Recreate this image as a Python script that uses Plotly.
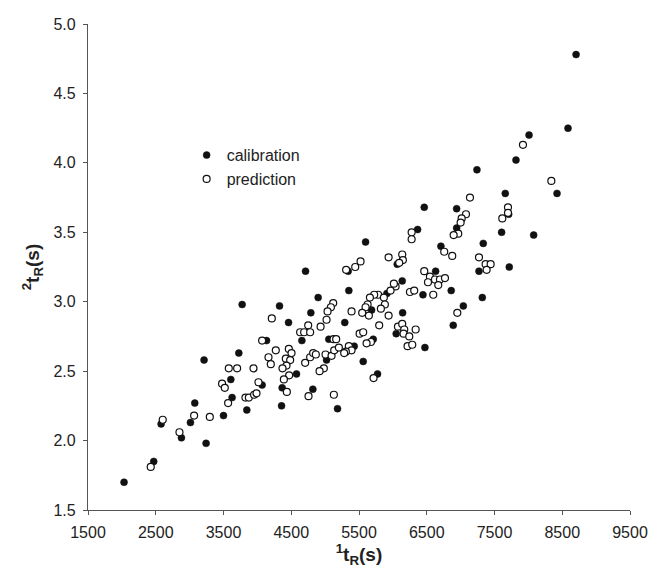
import plotly.graph_objects as go

# calibration set (filled)
cal_x = [8704, 8585, 8010, 7817, 7241, 8423, 7659, 7709, 7605, 8078, 7334, 7271, 7718, 7320, 7040,
         6463, 6941, 6941, 6365, 5597, 6709, 6064, 5340, 6631, 6138, 6861, 5350, 5912, 6444, 5686,
         5290, 6144, 6049, 6891, 5710, 5429, 6473, 5562, 5774, 4711, 4897, 3775, 4327, 4789, 4460,
         4657, 4135, 5055, 3726, 5021, 3608, 4070, 4578, 4366, 4819, 3627, 4357, 3844, 5183, 3500,
         3213, 3076, 3012, 2579, 2879, 3243, 2470, 2032]
cal_y = [4.78, 4.25, 4.20, 4.02, 3.95, 3.78, 3.78, 3.63, 3.50, 3.48, 3.42, 3.22, 3.25, 3.03, 2.97,
         3.68, 3.67, 3.53, 3.52, 3.43, 3.40, 3.27, 3.22, 3.22, 3.15, 3.08, 3.08, 3.06, 3.05, 2.94,
         2.85, 2.92, 2.77, 2.83, 2.73, 2.68, 2.67, 2.57, 2.48, 3.22, 3.03, 2.98, 2.97, 2.92, 2.85,
         2.72, 2.72, 2.73, 2.63, 2.58, 2.44, 2.40, 2.48, 2.38, 2.37, 2.31, 2.25, 2.22, 2.23, 2.18,
         2.58, 2.27, 2.13, 2.12, 2.02, 1.98, 1.85, 1.70]

# prediction set (open)
pred_x = [7920, 8339, 7138, 7699, 7699, 7615, 7079, 7015, 7000, 6965, 6897, 6277, 6277, 7271, 7369,
          7443, 7384, 6758, 6876, 5937, 6138, 6148, 6094, 5523, 5444, 5310, 6463, 6547, 6621, 6695,
          6769, 6518, 6670, 6040, 6015, 5966, 6252, 6315, 6596, 5783, 5724, 5661, 5867, 5627, 5597,
          5882, 5823, 5646, 5547, 5390, 5937, 5798, 6075, 6138, 6168, 6336, 6158, 6242, 6951, 5509,
          5562, 5676, 5612, 5350, 5390, 5306, 6217, 6286, 5715, 5119, 5085, 5036, 4213, 5021, 4933,
          4750, 4631, 4690, 4779, 4070, 5124, 5163, 4272, 4164, 4198, 4464, 4504, 4420, 4484, 4430,
          4371, 4705, 4779, 4823, 4863, 5006, 5095, 5134, 5203, 5281, 4981, 4918, 3578, 3701, 3943,
          3479, 3519, 4016, 4469, 4391, 4435, 4755, 5129, 3568, 3824, 3874, 3952, 3987, 3066, 3298,
          2603, 2850, 2426]
pred_y = [4.13, 3.87, 3.75, 3.68, 3.64, 3.60, 3.63, 3.60, 3.57, 3.49, 3.48, 3.50, 3.45, 3.32, 3.27,
          3.27, 3.23, 3.36, 3.33, 3.32, 3.34, 3.30, 3.28, 3.29, 3.25, 3.23, 3.22, 3.18, 3.16, 3.16,
          3.17, 3.14, 3.12, 3.11, 3.13, 3.08, 3.07, 3.08, 3.05, 3.05, 3.05, 3.03, 3.03, 2.98, 2.96,
          2.98, 2.95, 2.90, 2.92, 2.93, 2.90, 2.83, 2.82, 2.84, 2.80, 2.80, 2.77, 2.75, 2.92, 2.77,
          2.78, 2.71, 2.70, 2.68, 2.65, 2.64, 2.68, 2.69, 2.45, 2.99, 2.96, 2.93, 2.88, 2.87, 2.82,
          2.83, 2.78, 2.78, 2.78, 2.72, 2.73, 2.73, 2.65, 2.60, 2.55, 2.66, 2.63, 2.59, 2.58, 2.54,
          2.52, 2.56, 2.60, 2.63, 2.62, 2.62, 2.61, 2.65, 2.67, 2.63, 2.52, 2.50, 2.52, 2.52, 2.52,
          2.41, 2.38, 2.42, 2.47, 2.44, 2.35, 2.32, 2.33, 2.27, 2.31, 2.31, 2.33, 2.34, 2.18, 2.17,
          2.15, 2.06, 1.81]

x_ticks = [1500, 2500, 3500, 4500, 5500, 6500, 7500, 8500, 9500]
y_ticks = [1.5, 2.0, 2.5, 3.0, 3.5, 4.0, 4.5, 5.0]

FONT = "Liberation Sans, Arial, Helvetica, sans-serif"

fig = go.Figure()
fig.add_trace(go.Scatter(
    x=cal_x, y=cal_y, mode="markers", name="calibration",
    marker=dict(symbol="circle", size=7, color="#111111", line=dict(color="#111111", width=0.5)),
))
fig.add_trace(go.Scatter(
    x=pred_x, y=pred_y, mode="markers", name="prediction",
    marker=dict(symbol="circle", size=7, color="white", line=dict(color="#111111", width=1.2)),
))

axis_common = dict(
    showgrid=False, zeroline=False, showline=True, linecolor="#555555", linewidth=1.2,
    ticks="outside", ticklen=4, tickcolor="#555555", tickwidth=1, automargin=False,
    tickfont=dict(family=FONT, size=16, color="#222222"), mirror=False,
)

fig.update_layout(
    width=648, height=573,
    margin=dict(l=88, r=18, t=24, b=63),
    paper_bgcolor="white", plot_bgcolor="white",
    font=dict(family=FONT, color="#222222"),
    xaxis=dict(range=[1500, 9500], tickvals=x_ticks, ticktext=[str(v) for v in x_ticks],
               ticklabelstandoff=4,
               title=dict(text="<b><sup>1</sup>t<sub>R</sub>(s)</b>", font=dict(family=FONT, size=19, color="#222222"), standoff=6),
               **axis_common),
    yaxis=dict(range=[1.5, 5.0], tickvals=y_ticks, ticktext=[f"{v:.1f}" for v in y_ticks],
               ticklabelstandoff=4,
               title=dict(text="<b><sup>2</sup>t<sub>R</sub>(s)</b>", font=dict(family=FONT, size=19, color="#222222"), standoff=8),
               **axis_common),
    legend=dict(x=0.182, y=0.765, xanchor="left", yanchor="top", bgcolor="rgba(0,0,0,0)",
                font=dict(family=FONT, size=16, color="#222222"), itemwidth=30, tracegroupgap=0),
    showlegend=True,
)

fig.write_html("out.html")
